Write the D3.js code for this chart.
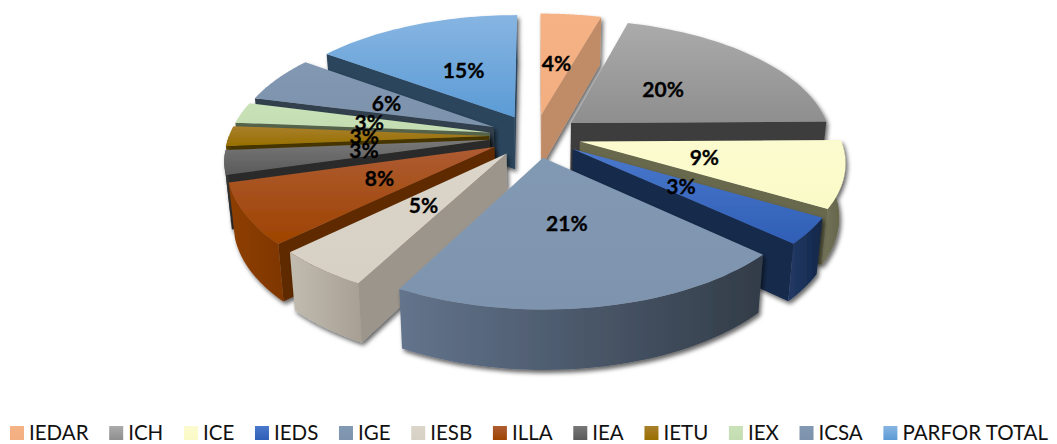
<!DOCTYPE html>
<html><head><meta charset="utf-8">
<script src="https://cdn.jsdelivr.net/npm/d3@7"></script>
<style>html,body{margin:0;background:#fff;overflow:hidden}svg{display:block}text{font-family:Lato,"Open Sans",sans-serif}</style>
</head><body><svg id="c" width="1057" height="444"></svg>
<script>
const categories = ["IEDAR","ICH","ICE","IEDS","IGE","IESB","ILLA","IEA","IETU","IEX","ICSA","PARFOR TOTAL"];
const shares = [4.4,20.4,8.6,3.4,21,5,7.8,3.1,2.6,2.7,6,15];
const topLight = ["#f5b285","#ababab","#fbfbcf","#4a78cc","#8299b4","#dbd5ca","#ae5c33","#787878","#a97f2c","#c9e2b8","#8298b3","#87b5e2"];
const topDark  = ["#f3ae80","#8e8e8e","#fafac8","#2f5fb6","#7e94ae","#d7d0c4","#9e4300","#5a5a5a","#977000","#c4dcb1","#7d92ab","#5b9bd5"];
const wallLight= ["#c69470","#444444","#74745a","#233a66","#63748c","#c2bcb0","#8e3e00","#3c3c3c","#5e4600","#5a6950","#3c4a5a","#35506d"];
const wallDark = ["#b98660","#383838","#626249","#122748","#323c48","#a79f94","#7f3700","#2a2a2a","#463400","#4e5c45","#2f3b48","#2a4058"];
const faceColor= ["#c08c68","#3d3d3d","#67674e","#16294c","#333e4b","#9c958c","#5f2a00","#2b2b2b","#463400","#55644b","#33404d","#2c445c"];

const W=1057,H=444, cx=535, cy=136, R=260, explode=46, k=0.47, D=1768, depth=54, taper=0.98;
const svg=d3.select("#c");
const defs=svg.append("defs");

function project(X,Y,down){
  const s=1/(1-Y/D)*(down?taper:1);
  return [cx+X*s, cy+(Y*k+(down?depth:0))*s];
}
const pie=d3.pie().sort(null).startAngle(0).endAngle(2*Math.PI);
const arcs=pie(shares);
const total=d3.sum(shares);
const line=d3.line();
const pct=d3.format(".0%");

const f=defs.append("filter").attr("id","sh").attr("filterUnits","userSpaceOnUse")
  .attr("x",0).attr("y",0).attr("width",W).attr("height",H);
f.append("feDropShadow").attr("dx",2).attr("dy",3).attr("stdDeviation",2.2)
  .attr("flood-color","#000").attr("flood-opacity",0.6);

function grad(id,c0,c1,horizontal){
  const g=defs.append("linearGradient").attr("id",id)
    .attr("x1",0).attr("y1",0).attr("x2",horizontal?1:0).attr("y2",horizontal?0:1);
  g.append("stop").attr("offset",0).attr("stop-color",c0);
  g.append("stop").attr("offset",1).attr("stop-color",c1);
}
categories.forEach((c,i)=>{grad("t"+i,topLight[i],topDark[i],false);grad("w"+i,wallLight[i],wallDark[i],true);});

const slices=arcs.map((a,i)=>{
  const mid=(a.startAngle+a.endAngle)/2;
  const ox=explode*Math.sin(mid), oy=-explode*Math.cos(mid);
  const P=(t,r,down)=>project(ox+r*Math.sin(t),oy-r*Math.cos(t),down);
  return {i,a,mid,ox,oy,P};
});

const order=slices.slice().sort((p,q)=>d3.descending(Math.cos(p.mid),Math.cos(q.mid)));
const g=svg.append("g");
order.forEach(s=>{
  const {i,a,P}=s;
  const sl=g.append("g").attr("filter","url(#sh)");
  const ang=d3.range(0,41).map(j=>a.startAngle+(a.endAngle-a.startAngle)*j/40);
  // radial faces (d3.polygonArea is positive for counterclockwise on screen)
  [[a.startAngle,1],[a.endAngle,-1]].forEach(([t,sign])=>{
    const q=[P(t,0,false),P(t,R,false),P(t,R,true),P(t,0,true)];
    if(d3.polygonArea(q)*sign>0)
      sl.append("path").attr("d",line(q)+"Z").attr("fill",faceColor[i]);
  });
  // outer wall (only the part facing the viewer)
  const front=ang.filter(t=>Math.cos(t)<=0.001);
  if(front.length>1){
    const q=front.map(t=>P(t,R,false)).concat(front.slice().reverse().map(t=>P(t,R,true)));
    sl.append("path").attr("d",line(q)+"Z").attr("fill",`url(#w${i})`);
  }
  // top
  const topPts=[P(0,0,false)].concat(ang.map(t=>P(t,R,false)));
  sl.append("path").attr("d",line(topPts)+"Z").attr("fill",`url(#t${i})`);
});

// percentage labels
slices.forEach(s=>{
  const p=s.P(s.mid,R*0.48,false);
  svg.append("text").attr("x",p[0]).attr("y",p[1]).attr("text-anchor","middle").attr("dy","0.36em")
    .attr("font-size",21).attr("font-weight",700).attr("fill","#000")
    .attr("stroke","#000").attr("stroke-width",0.3)
    .text(pct(shares[s.i]/total));
});

// legend
const lg=svg.append("g");
let lx=10; const swatch=14, ly=426, pad=5, gap=20.7;
categories.forEach((c,i)=>{
  grad("l"+i,topLight[i],topDark[i],false);
  lg.append("rect").attr("x",lx).attr("y",ly).attr("width",swatch).attr("height",swatch).attr("fill",`url(#l${i})`);
  const t=lg.append("text").attr("x",lx+swatch+pad).attr("y",ly+14).attr("font-size",20.5).attr("fill","#111").text(c);
  lx+=swatch+pad+t.node().getComputedTextLength()+gap;
});
</script></body></html>
